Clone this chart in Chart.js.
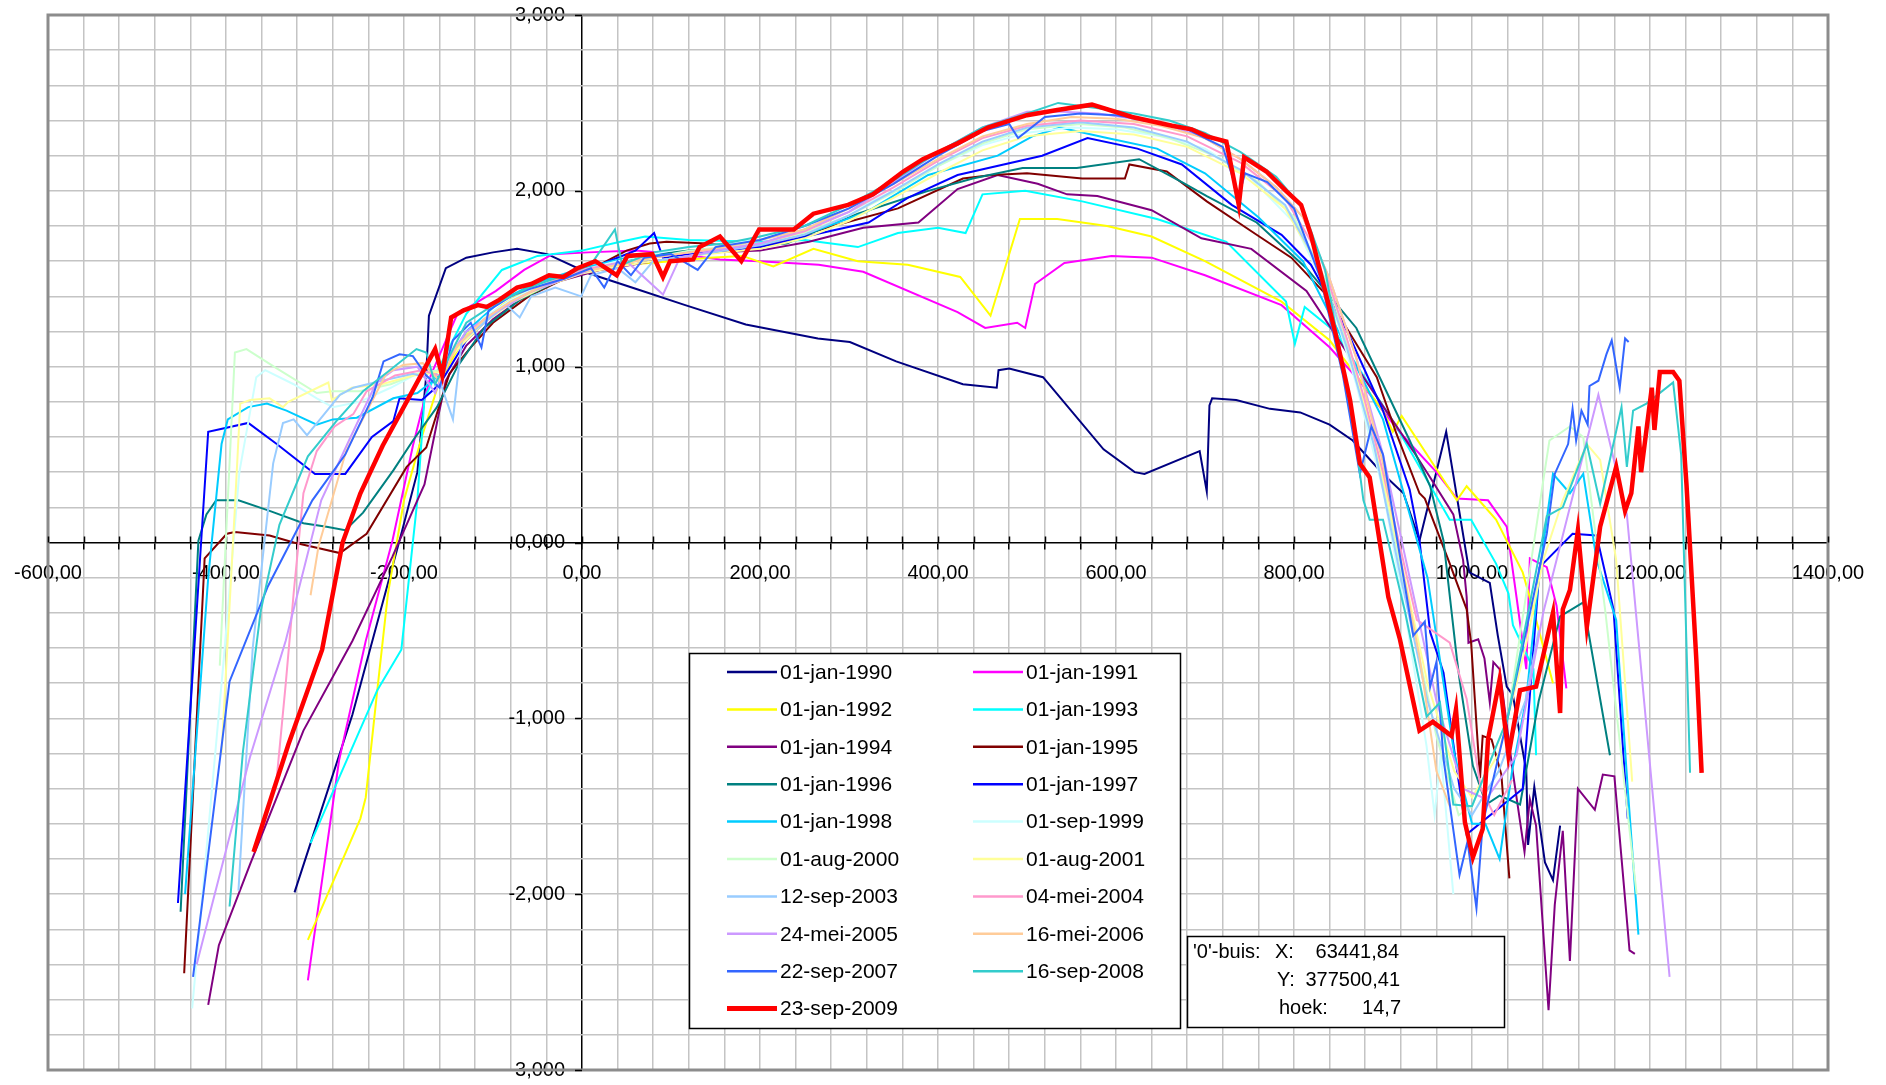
<!DOCTYPE html>
<html>
<head>
<meta charset="utf-8">
<script src="https://cdn.jsdelivr.net/npm/chart.js@4.4.0/dist/chart.umd.min.js"></script>
<style>
  html, body { margin: 0; padding: 0; background: #fff; }
  canvas { display: block; }
</style>
</head>
<body>
<canvas id="profiel" width="1886" height="1085"></canvas>
<script>
  // series labels + colours (legend order)
  const seriesLabels = ['01-jan-1990','01-jan-1991','01-jan-1992','01-jan-1993','01-jan-1994','01-jan-1995',
    '01-jan-1996','01-jan-1997','01-jan-1998','01-sep-1999','01-aug-2000','01-aug-2001','12-sep-2003',
    '04-mei-2004','24-mei-2005','16-mei-2006','22-sep-2007','16-sep-2008','23-sep-2009'];
  const seriesColors = ['#000080','#FF00FF','#FFFF00','#00FFFF','#800080','#800000','#008080','#0000FF',
    '#00CCFF','#CCFFFF','#CCFFCC','#FFFF99','#99CCFF','#FF99CC','#CC99FF','#FFCC99','#3366FF','#33CCCC','#FF0000'];

  // '0'-buis info
  const infoX = '63441,84';
  const infoY = '377500,41';
  const infoHoek = '14,7';

  // profiles: [afstand, hoogte]
  const d1990 = [[-323,-1.99],[-258,-0.98],[-203,0.05],[-185,0.4],[-175,0.95],[-172,1.29],[-153,1.56],[-130,1.62],[-100,1.65],[-73,1.67],[-39,1.64],[8,1.53],[62,1.44],[116,1.35],[184,1.24],[265,1.16],[301,1.14],[353,1.03],[428,0.90],[466,0.88],[468,0.98],[480,0.99],[518,0.94],[586,0.53],[621,0.40],[632,0.39],[694,0.52],[702,0.29],[705,0.78],[708,0.82],[735,0.81],[773,0.76],[807,0.74],[840,0.67],[866,0.58],[900,0.39],[923,0.28],[941,0.01],[971,0.63],[997,-0.17],[1020,-0.23],[1029,-0.53],[1039,-0.82],[1046,-0.87],[1061,-1.30],[1063,-1.72],[1070,-1.39],[1082,-1.82],[1091,-1.92],[1099,-1.61]];
  const d1991 = [[-308,-2.49],[-273,-1.24],[-243,-0.56],[-213,0.01],[-190,0.55],[-170,0.95],[-140,1.30],[-97,1.43],[-65,1.55],[-33,1.64],[7,1.65],[60,1.66],[110,1.64],[155,1.61],[199,1.60],[266,1.58],[316,1.54],[422,1.31],[453,1.22],[489,1.25],[498,1.22],[509,1.47],[542,1.59],[595,1.63],[640,1.62],[700,1.52],[786,1.35],[840,1.11],[870,0.94],[920,0.62],[960,0.40],[983,0.25],[1018,0.24],[1039,0.09],[1050,-0.31],[1061,-0.72],[1065,-0.09],[1084,-0.14],[1095,-0.36],[1106,-0.83]];
  const d1992 = [[-308,-2.26],[-249,-1.57],[-243,-1.45],[-230,-0.84],[-218,-0.29],[-200,0.24],[-180,0.60],[-160,0.92],[-130,1.18],[-90,1.35],[-50,1.47],[0,1.55],[50,1.58],[100,1.60],[143,1.62],[180,1.63],[215,1.57],[260,1.67],[310,1.60],[366,1.58],[425,1.51],[459,1.29],[492,1.84],[534,1.84],[590,1.80],[640,1.74],[700,1.60],[786,1.37],[840,1.15],[900,0.75],[911,0.63],[921,0.72],[983,0.24],[994,0.32],[1027,0.13],[1057,-0.17],[1072,-0.44],[1091,-0.80]];
  const d1993 = [[-305,-1.71],[-230,-0.84],[-203,-0.61],[-185,0.24],[-177,0.82],[-160,1.00],[-130,1.30],[-90,1.55],[-50,1.63],[0,1.66],[43,1.71],[71,1.74],[120,1.72],[199,1.71],[250,1.72],[310,1.68],[355,1.76],[400,1.79],[431,1.76],[450,1.98],[498,2.00],[562,1.94],[646,1.84],[724,1.71],[791,1.37],[801,1.13],[812,1.34],[846,1.20],[915,0.66],[975,0.13],[999,0.13],[1027,-0.12],[1041,-0.29],[1046,-0.47],[1069,-0.72],[1072,-1.21]];
  const d1994 = [[-420,-2.63],[-408,-2.29],[-373,-1.83],[-313,-1.07],[-258,-0.56],[-213,-0.08],[-185,0.24],[-177,0.33],[-161,0.73],[-153,0.92],[-130,1.12],[-100,1.27],[-70,1.38],[-30,1.48],[20,1.55],[80,1.60],[150,1.65],[200,1.66],[255,1.71],[316,1.79],[378,1.82],[422,2.01],[467,2.09],[512,2.04],[545,1.98],[579,1.97],[640,1.89],[696,1.73],[752,1.67],[814,1.43],[870,1.00],[934,0.52],[953,0.37],[979,0.16],[990,-0.10],[994,-0.31],[996,-0.57],[1007,-0.55],[1014,-0.66],[1020,-0.91],[1024,-0.68],[1031,-0.72],[1046,-1.31],[1059,-1.76],[1065,-1.46],[1072,-1.61],[1086,-2.66],[1093,-2.06],[1102,-1.64],[1110,-2.38],[1119,-1.40],[1138,-1.52],[1147,-1.32],[1160,-1.33],[1177,-2.32],[1183,-2.34]];
  const d1995 = [[-447,-2.45],[-424,-0.09],[-399,0.05],[-390,0.06],[-351,0.04],[-324,0.00],[-298,-0.03],[-272,-0.06],[-242,0.05],[-197,0.43],[-175,0.54],[-149,0.96],[-125,1.11],[-100,1.25],[-60,1.40],[-20,1.50],[20,1.58],[50,1.66],[76,1.70],[95,1.71],[140,1.70],[200,1.68],[282,1.80],[355,1.90],[428,2.07],[461,2.09],[500,2.10],[562,2.07],[610,2.07],[615,2.15],[657,2.11],[702,1.94],[758,1.75],[797,1.62],[836,1.41],[893,0.94],[915,0.62],[941,0.28],[947,0.25],[975,-0.12],[994,-0.38],[999,-0.57],[1009,-1.34],[1012,-1.10],[1022,-1.12],[1033,-1.32],[1042,-1.91]];
  const d1996 = [[-451,-2.10],[-431,0.01],[-422,0.16],[-411,0.24],[-386,0.24],[-351,0.18],[-313,0.11],[-287,0.09],[-266,0.07],[-246,0.17],[-212,0.41],[-190,0.58],[-163,0.77],[-140,1.00],[-110,1.22],[-70,1.38],[-30,1.48],[20,1.57],[70,1.63],[120,1.66],[180,1.68],[230,1.70],[310,1.87],[389,2.00],[439,2.07],[495,2.13],[556,2.13],[626,2.18],[674,2.05],[702,1.97],[758,1.82],[814,1.56],[870,1.22],[930,0.58],[953,0.32],[968,0.01],[983,-0.66],[986,-0.78],[1001,-1.27],[1016,-1.49],[1031,-1.44],[1054,-1.49],[1075,-0.90],[1099,-0.42],[1125,-0.34],[1155,-1.21]];
  const d1997 = [[-454,-2.05],[-420,0.63],[-375,0.68],[-343,0.56],[-300,0.39],[-266,0.39],[-236,0.60],[-212,0.69],[-205,0.82],[-180,0.81],[-160,0.90],[-130,1.15],[-100,1.30],[-60,1.42],[-20,1.52],[20,1.58],[60,1.66],[81,1.76],[91,1.62],[140,1.65],[200,1.68],[260,1.75],[322,1.82],[366,1.96],[422,2.09],[517,2.20],[568,2.30],[624,2.24],[674,2.15],[730,1.92],[786,1.75],[819,1.58],[860,1.20],[900,0.75],[930,0.30],[941,0.01],[953,-0.51],[968,-0.74],[983,-1.29],[994,-1.66],[1057,-1.40],[1076,-0.14],[1113,0.05],[1140,0.04],[1159,-0.38],[1175,-1.57]];
  const d1998 = [[-446,-2.00],[-420,-0.20],[-405,0.56],[-398,0.70],[-375,0.77],[-354,0.79],[-332,0.75],[-298,0.67],[-280,0.70],[-253,0.71],[-212,0.82],[-185,0.85],[-160,0.95],[-130,1.20],[-90,1.38],[-50,1.48],[0,1.56],[50,1.62],[100,1.64],[150,1.67],[200,1.70],[260,1.77],[320,1.88],[389,2.09],[467,2.20],[506,2.31],[537,2.36],[590,2.30],[646,2.24],[700,2.10],[760,1.85],[810,1.60],[850,1.20],[900,0.70],[950,-0.20],[980,-1.20],[1000,-1.60],[1015,-1.60],[1031,-1.80],[1045,-1.30],[1061,-0.89],[1075,-0.20],[1091,0.39],[1110,0.28],[1125,0.39],[1140,-0.10],[1162,-0.44],[1175,-1.40],[1187,-2.23]];
  const d1999 = [[-438,-2.65],[-403,-0.69],[-385,0.40],[-366,0.94],[-356,0.98],[-324,0.90],[-298,0.82],[-280,0.77],[-250,0.80],[-215,0.88],[-185,0.96],[-160,0.98],[-140,1.12],[-110,1.28],[-80,1.38],[-40,1.48],[0,1.55],[40,1.60],[80,1.64],[120,1.68],[160,1.70],[200,1.72],[250,1.78],[300,1.88],[350,2.00],[400,2.14],[450,2.26],[500,2.33],[550,2.36],[600,2.35],[650,2.31],[700,2.24],[750,2.08],[800,1.82],[840,1.40],[870,0.90],[900,0.30],[925,-0.40],[949,-1.16],[958,-1.55],[965,-1.20],[979,-2.00]];
  const d2000 = [[-407,-0.70],[-390,1.08],[-377,1.10],[-343,0.99],[-298,0.85],[-280,0.86],[-250,0.86],[-215,0.90],[-185,0.96],[-160,0.98],[-140,1.10],[-110,1.26],[-80,1.37],[-40,1.47],[0,1.54],[40,1.58],[80,1.62],[120,1.66],[160,1.68],[200,1.70],[250,1.76],[300,1.86],[350,1.99],[400,2.14],[450,2.27],[500,2.35],[560,2.38],[610,2.36],[660,2.30],[710,2.20],[760,2.05],[800,1.85],[840,1.45],[870,0.95],[900,0.35],[930,-0.40],[960,-1.10],[985,-1.55],[1000,-1.50],[1040,-1.00],[1080,0.35],[1087,0.58],[1110,0.66],[1125,0.60],[1150,-0.40],[1185,-2.00]];
  const d2001 = [[-405,-1.20],[-390,0.20],[-384,0.79],[-373,0.81],[-351,0.82],[-336,0.77],[-330,0.80],[-285,0.91],[-281,0.81],[-259,0.88],[-225,0.90],[-190,0.95],[-160,0.97],[-140,1.10],[-110,1.25],[-80,1.36],[-40,1.46],[0,1.53],[40,1.57],[80,1.60],[120,1.63],[160,1.65],[200,1.67],[250,1.73],[300,1.83],[350,1.96],[400,2.10],[450,2.23],[500,2.31],[560,2.34],[620,2.32],[680,2.25],[740,2.10],[790,1.90],[830,1.55],[860,1.10],[890,0.60],[920,-0.10],[950,-0.80],[980,-1.30],[1000,-1.45],[1030,-1.20],[1060,-0.60],[1080,-0.10],[1102,0.24],[1129,0.56],[1144,0.47],[1162,-0.10],[1180,-1.36]];
  const d2003 = [[-386,-1.98],[-370,-0.60],[-347,0.45],[-336,0.68],[-324,0.70],[-309,0.61],[-296,0.69],[-272,0.84],[-257,0.88],[-225,0.92],[-190,0.96],[-160,0.92],[-145,0.70],[-135,1.15],[-110,1.25],[-85,1.35],[-70,1.28],[-57,1.40],[-30,1.45],[-1,1.40],[10,1.52],[40,1.56],[60,1.48],[80,1.60],[120,1.63],[160,1.66],[200,1.69],[250,1.75],[300,1.86],[350,2.00],[400,2.15],[450,2.28],[500,2.36],[560,2.39],[620,2.36],[680,2.28],[740,2.12],[790,1.92],[830,1.55],[860,1.10],[890,0.55],[920,-0.20],[950,-0.90],[980,-1.40],[1000,-1.55],[1030,-1.30],[1060,-0.90],[1075,-0.50]];
  const d2004 = [[-343,-1.34],[-333,-0.81],[-324,-0.29],[-313,0.28],[-298,0.52],[-278,0.66],[-257,0.73],[-242,0.86],[-210,0.95],[-180,0.98],[-160,0.95],[-140,1.12],[-110,1.27],[-80,1.37],[-40,1.47],[0,1.55],[40,1.59],[80,1.62],[120,1.65],[160,1.67],[200,1.70],[250,1.77],[300,1.88],[350,2.02],[400,2.17],[450,2.30],[500,2.37],[560,2.40],[620,2.38],[680,2.31],[740,2.16],[790,1.96],[830,1.62],[860,1.15],[880,0.80],[900,0.40],[938,-0.44],[975,-0.57],[994,-0.89],[1010,-1.40],[1025,-1.55],[1045,-1.35]];
  const d2005 = [[-433,-2.40],[-373,-1.22],[-333,-0.56],[-293,0.24],[-260,0.60],[-231,0.91],[-212,0.98],[-185,1.00],[-165,0.85],[-150,1.05],[-130,1.20],[-100,1.30],[-60,1.42],[-20,1.50],[10,1.55],[50,1.60],[91,1.41],[110,1.62],[150,1.66],[200,1.70],[250,1.78],[300,1.88],[350,2.05],[400,2.22],[450,2.36],[500,2.45],[540,2.45],[580,2.44],[620,2.41],[660,2.37],[700,2.30],[740,2.18],[780,2.02],[810,1.85],[840,1.50],[870,1.05],[900,0.50],[930,-0.20],[960,-0.90],[990,-1.40],[1016,-1.46],[1050,-1.21],[1080,-0.40],[1110,0.20],[1142,0.84],[1174,0.16],[1222,-2.47]];
  const d2006 = [[-305,-0.30],[-296,-0.02],[-265,0.52],[-220,0.96],[-201,1.01],[-179,1.02],[-160,0.92],[-140,1.12],[-110,1.27],[-80,1.37],[-40,1.47],[0,1.54],[40,1.58],[80,1.62],[120,1.65],[160,1.68],[200,1.72],[250,1.78],[300,1.90],[350,2.04],[400,2.18],[450,2.31],[500,2.38],[550,2.42],[600,2.41],[650,2.37],[700,2.30],[740,2.18],[780,2.02],[810,1.85],[840,1.50],[870,1.05],[900,0.45],[920,-0.10],[941,-0.65],[960,-1.30],[975,-1.50]];
  const d2007 = [[-437,-2.47],[-396,-0.79],[-353,-0.25],[-303,0.24],[-266,0.50],[-235,0.83],[-223,1.03],[-205,1.07],[-190,1.06],[-175,0.95],[-160,0.88],[-145,1.15],[-125,1.25],[-113,1.11],[-105,1.32],[-80,1.40],[-60,1.44],[-20,1.50],[10,1.56],[25,1.45],[40,1.60],[55,1.52],[70,1.62],[100,1.64],[130,1.55],[150,1.68],[200,1.72],[250,1.80],[300,1.90],[350,2.04],[400,2.20],[450,2.34],[480,2.38],[490,2.30],[520,2.42],[560,2.44],[600,2.43],[640,2.40],[680,2.35],[720,2.25],[738,1.97],[745,2.10],[770,2.05],[800,1.90],[830,1.50],[855,0.95],[874,0.39],[887,0.66],[900,0.50],[934,-0.53],[947,-0.45],[953,-0.82],[960,-0.68],[968,-1.23],[986,-1.89],[995,-1.70],[1005,-2.08],[1012,-1.60],[1040,-1.00],[1084,0.05],[1093,0.39],[1108,0.56],[1113,0.76],[1117,0.58],[1123,0.75],[1130,0.67],[1132,0.89],[1142,0.92],[1151,1.07],[1157,1.15],[1166,0.88],[1172,1.16],[1176,1.14]];
  const d2008 = [[-396,-2.07],[-381,-1.19],[-361,-0.39],[-340,0.10],[-308,0.49],[-276,0.69],[-246,0.86],[-216,0.98],[-186,1.10],[-175,1.08],[-165,0.90],[-150,1.05],[-130,1.25],[-100,1.35],[-60,1.45],[-20,1.52],[10,1.58],[37,1.78],[45,1.58],[80,1.65],[120,1.68],[160,1.70],[200,1.74],[250,1.80],[300,1.92],[350,2.06],[400,2.22],[450,2.36],[500,2.44],[535,2.50],[580,2.47],[620,2.44],[660,2.40],[700,2.33],[740,2.22],[780,2.08],[810,1.90],[835,1.55],[855,1.00],[870,0.55],[878,0.24],[885,0.13],[900,0.13],[925,-0.40],[949,-0.99],[964,-0.91],[979,-1.49],[1000,-1.50],[1040,-1.00],[1084,0.15],[1102,0.20],[1129,0.56],[1144,0.22],[1168,0.77],[1174,0.43],[1181,0.75],[1196,0.79],[1226,0.91],[1235,0.50],[1245,-1.31]];
  const d2009 = [[-369,-1.76],[-330,-1.15],[-292,-0.61],[-269,0.00],[-249,0.28],[-224,0.55],[-195,0.82],[-165,1.10],[-157,0.95],[-147,1.28],[-133,1.32],[-117,1.35],[-107,1.34],[-93,1.38],[-73,1.45],[-57,1.47],[-37,1.52],[-21,1.51],[-5,1.56],[15,1.60],[39,1.52],[51,1.63],[79,1.64],[91,1.51],[99,1.60],[125,1.61],[132,1.68],[155,1.74],[179,1.60],[199,1.78],[238,1.78],[260,1.87],[299,1.92],[327,1.98],[361,2.11],[383,2.18],[422,2.27],[456,2.36],[500,2.43],[534,2.46],[573,2.49],[618,2.42],[663,2.37],[685,2.35],[702,2.31],[724,2.28],[738,1.92],[744,2.19],[769,2.11],[791,2.00],[808,1.92],[819,1.75],[836,1.41],[847,1.18],[863,0.81],[874,0.45],[885,0.37],[906,-0.31],[919,-0.55],[941,-1.07],[956,-1.02],[977,-1.10],[982,-0.95],[992,-1.59],[1001,-1.79],[1012,-1.63],[1018,-1.12],[1031,-0.78],[1041,-1.21],[1054,-0.84],[1072,-0.82],[1091,-0.40],[1099,-0.97],[1102,-0.38],[1110,-0.27],[1119,0.07],[1129,-0.48],[1144,0.09],[1162,0.43],[1172,0.18],[1179,0.28],[1187,0.66],[1190,0.40],[1202,0.88],[1205,0.64],[1211,0.97],[1226,0.97],[1233,0.92],[1241,0.33],[1252,-0.66],[1258,-1.31]];

  const series = [d1990, d1991, d1992, d1993, d1994, d1995, d1996, d1997, d1998, d1999,
    d2000, d2001, d2003, d2004, d2005, d2006, d2007, d2008, d2009];

  const FONT = '"Liberation Sans", Arial, sans-serif';
  const isInt = v => Math.abs(v - Math.round(v)) < 1e-6;
  const GRID = '#c4c4c4';

  // grey frame round the plot area + tick marks crossing the axes
  const frame = {
    id: 'frame',
    beforeDatasetsDraw(chart) {
      const { ctx: c, chartArea: a, scales } = chart;
      const xs = scales.x, ys = scales.y;
      const x0 = xs.getPixelForValue(0), y0 = ys.getPixelForValue(0);
      c.save();
      c.strokeStyle = '#8c8c8c';
      c.lineWidth = 3;
      c.strokeRect(a.left, a.top, a.right - a.left, a.bottom - a.top);
      c.strokeStyle = '#000';
      c.lineWidth = 1.5;
      c.beginPath();
      xs.ticks.forEach(t => {
        const px = Math.round(xs.getPixelForValue(t.value)) + 0.5;
        c.moveTo(px, y0 - 6);
        c.lineTo(px, y0);
      });
      ys.ticks.filter(t => isInt(t.value)).forEach(t => {
        const py = Math.round(ys.getPixelForValue(t.value)) + 0.5;
        c.moveTo(x0 - 7, py);
        c.lineTo(x0, py);
      });
      c.stroke();
      c.restore();
    }
  };

  // legend box inside the plot
  const legendBox = {
    id: 'legendBox',
    afterDraw(chart) {
      const c = chart.ctx;
      c.save();
      c.fillStyle = '#fff';
      c.fillRect(689, 653, 492, 376);
      c.strokeStyle = '#000';
      c.lineWidth = 1.5;
      c.strokeRect(689.5, 653.5, 491, 375);
      c.font = '21px ' + FONT;
      c.textBaseline = 'middle';
      chart.data.datasets.forEach((ds, i) => {
        const x0 = i % 2 === 0 ? 727 : 973;
        const y = 672 + Math.floor(i / 2) * 37.4;
        c.strokeStyle = ds.borderColor;
        c.lineWidth = ds.borderWidth > 3 ? 5 : 2.5;
        c.beginPath();
        c.moveTo(x0, y);
        c.lineTo(x0 + 50, y);
        c.stroke();
        c.fillStyle = '#000';
        c.fillText(ds.label, x0 + 53, y + 1);
      });
      c.restore();
    }
  };

  // '0'-buis box
  const infoBox = {
    id: 'infoBox',
    afterDraw(chart) {
      const c = chart.ctx;
      c.save();
      c.fillStyle = '#fff';
      c.fillRect(1187, 936, 318, 92);
      c.strokeStyle = '#000';
      c.lineWidth = 1.5;
      c.strokeRect(1187.5, 936.5, 317, 91);
      c.font = '20px ' + FONT;
      c.fillStyle = '#000';
      c.textBaseline = 'middle';
      c.textAlign = 'left';
      c.fillText("'0'-buis:", 1193, 952);
      c.fillText('X:', 1275, 952);
      c.fillText('Y:', 1277, 980);
      c.fillText('hoek:', 1279, 1008);
      c.textAlign = 'right';
      c.fillText(infoX, 1399, 952);
      c.fillText(infoY, 1400, 980);
      c.fillText(infoHoek, 1401, 1008);
      c.restore();
    }
  };

  const datasets = series.map((pts, i) => ({
    label: seriesLabels[i],
    data: pts.map(p => ({ x: p[0], y: p[1] })),
    borderColor: seriesColors[i],
    backgroundColor: seriesColors[i],
    borderWidth: i === series.length - 1 ? 4.5 : 2,
    showLine: true,
    pointRadius: 0,
    pointHoverRadius: 0,
    order: series.length - 1 - i
  }));

  new Chart(document.getElementById('profiel'), {
    type: 'scatter',
    data: { datasets: datasets },
    options: {
      responsive: false,
      animation: false,
      events: [],
      layout: { autoPadding: false, padding: { left: 48, top: 12, right: 58, bottom: 12 } },
      plugins: {
        legend: { display: false },
        tooltip: { enabled: false }
      },
      scales: {
        x: {
          type: 'linear',
          position: { y: 0 },
          min: -600,
          max: 1400,
          // axis sits inside the plot, so it takes no room of its own
          afterFit: s => { s.height = 0; },
          ticks: {
            stepSize: 40,
            autoSkip: false,
            maxRotation: 0,
            padding: 13,
            color: '#000',
            font: { family: FONT, size: 20 },
            callback: v => Math.round(v) % 200 === 0 ? v.toFixed(2).replace('.', ',') : ''
          },
          grid: {
            // the grid line at x = 0 is the vertical axis line
            color: ctx => ctx.tick && Math.round(ctx.tick.value) === 0 ? '#000' : GRID,
            lineWidth: 1.5,
            tickColor: '#000',
            tickLength: 6,
            tickWidth: 1.5
          },
          border: { display: true, color: '#000', width: 1.5 }
        },
        y: {
          type: 'linear',
          // labels sit a little left of the vertical axis
          position: { x: -19 },
          min: -3,
          max: 3,
          afterFit: s => { s.width = 0; },
          ticks: {
            stepSize: 0.2,
            autoSkip: false,
            color: '#000',
            font: { family: FONT, size: 20 },
            callback: v => isInt(v) ? Math.round(v).toFixed(3).replace('.', ',') : ''
          },
          grid: {
            color: ctx => ctx.tick && isInt(ctx.tick.value) && Math.round(ctx.tick.value) === 0 ? 'rgba(0,0,0,0)' : GRID,
            lineWidth: 1.5,
            drawTicks: false
          },
          border: { display: false }
        }
      }
    },
    plugins: [frame, legendBox, infoBox]
  });
</script>
</body>
</html>
